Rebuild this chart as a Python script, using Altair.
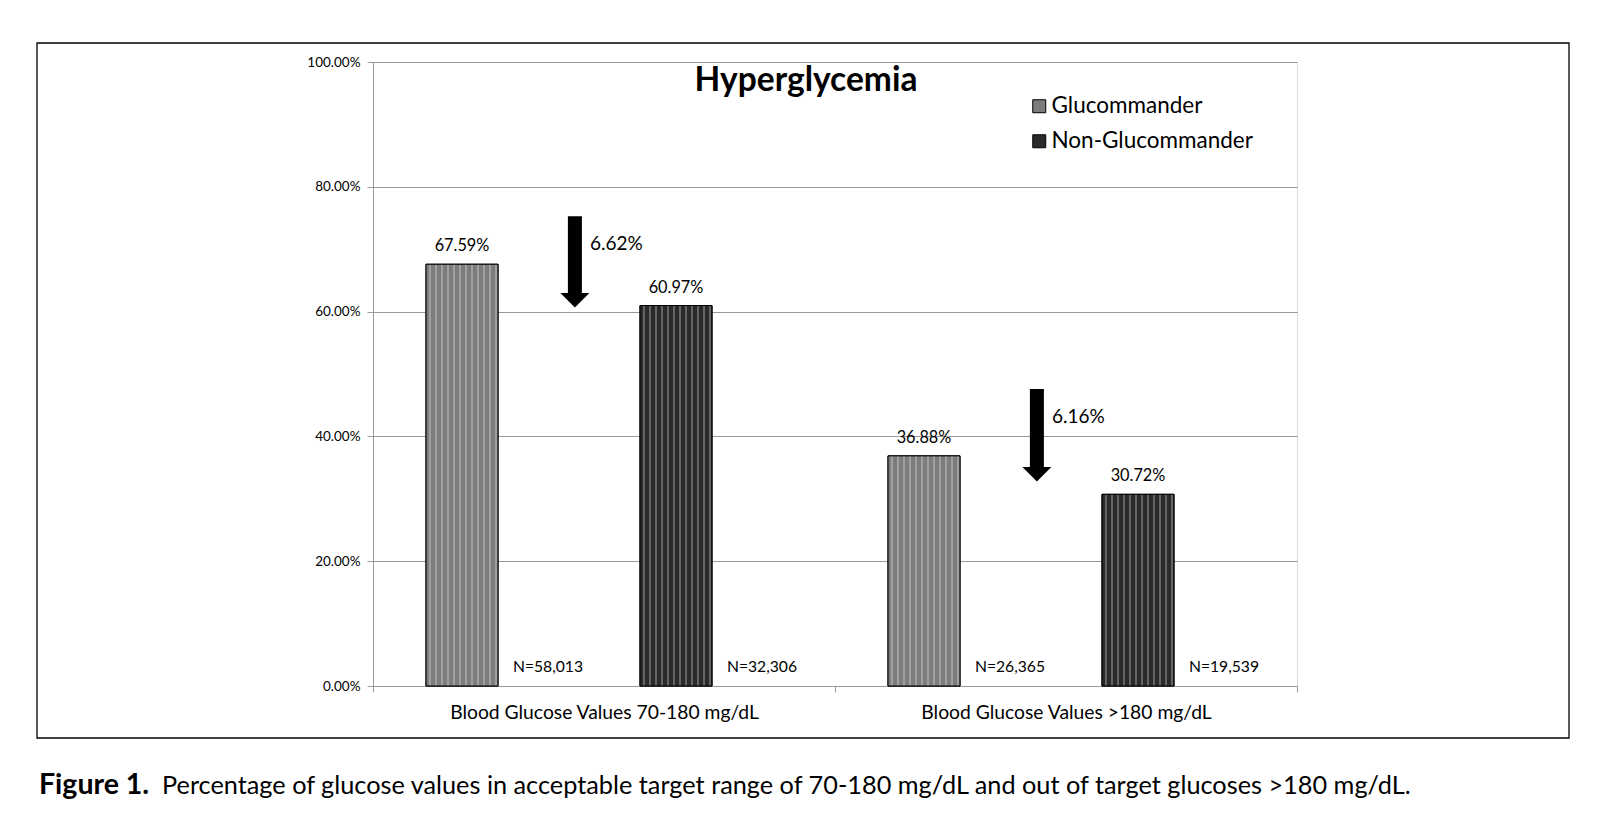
import altair as alt
import pandas as pd

# ---- data ----
categories = ["Blood Glucose Values 70-180 mg/dL", "Blood Glucose Values >180 mg/dL"]
series = ["Glucommander", "Non-Glucommander"]
gluco_values = [0.6759, 0.3688]
non_values = [0.6097, 0.3072]
gluco_n = ["N=58,013", "N=26,365"]
non_n = ["N=32,306", "N=19,539"]
diff_labels = ["6.62%", "6.16%"]
arrow_top = [0.753, 0.476]
arrow_base = [0.630, 0.351]
diff_label_y = [0.709, 0.431]
y_ticks = [0.0, 0.2, 0.4, 0.6, 0.8, 1.0]
title_text = "Hyperglycemia"
caption_bold = "Figure 1."
caption_text = ("Percentage of glucose values in acceptable target range of 70-180 mg/dL "
                "and out of target glucoses >180 mg/dL.")

FONT = "Lato"
slots = ["Glucommander", "gapG", "Non-Glucommander", "gapN"]
fill_colors = ["#7c7c7c", "#2a2a2a"]
stripe_colors = ["#a0a0a0", "#646464"]

bars = pd.DataFrame({
    "category": categories * 2,
    "series": [series[0]] * 2 + [series[1]] * 2,
    "value": gluco_values + non_values,
})
bars["label"] = [f"{v * 100:.2f}%" for v in bars["value"]]
bars["slot"] = bars["series"]

nlab = pd.DataFrame({
    "category": categories * 2,
    "slot": ["gapG"] * 2 + ["gapN"] * 2,
    "text": gluco_n + non_n,
    "value": [0.0] * 4,
})

arrows = pd.DataFrame({
    "category": categories,
    "top": arrow_top,
    "base": arrow_base,
    "label": diff_labels,
    "label_y": diff_label_y,
})

one = pd.DataFrame({"k": [0]})


def stripes(base, light, n=12, w=0.022):
    stops = [{"offset": 0, "color": base}]
    for i in range(n):
        p = (i + 0.5) / n
        stops += [{"offset": p, "color": base}, {"offset": p, "color": light},
                  {"offset": p + w, "color": light}, {"offset": p + w, "color": base}]
    stops.append({"offset": 1, "color": base})
    return {"gradient": "linear", "x1": 0, "x2": 1, "y1": 0, "y2": 0, "stops": stops}


xscale = alt.Scale(domain=categories, paddingInner=0, paddingOuter=0)
yscale = alt.Scale(domain=[0, 1])
offscale = alt.Scale(domain=slots, range=[53, 446], paddingInner=0.327, paddingOuter=0)

xaxis = alt.Axis(title=None, tickBand="extent", labelAngle=0, grid=False,
                 domainColor="#9a9a9a", tickColor="#9a9a9a", tickSize=6,
                 labelFontSize=19.3, labelFont=FONT, labelColor="black",
                 labelPadding=11, labelLimit=0)
X = alt.X("category:N", scale=xscale, sort=categories, axis=xaxis)
Y = alt.Y("value:Q", scale=yscale,
          axis=alt.Axis(title=None, values=y_ticks, format=".2%", grid=True,
                        gridColor="#9a9a9a", domainColor="#9a9a9a", tickColor="#9a9a9a",
                        tickSize=6, labelFontSize=13.5, labelFont=FONT,
                        labelColor="black", labelPadding=7))
XO = alt.XOffset("slot:N", scale=offscale)

bar_layer = alt.Chart(bars).mark_bar(stroke="black", strokeWidth=1).encode(
    x=X, xOffset=XO, y=Y,
    color=alt.Color("series:N", scale=alt.Scale(domain=series, range=fill_colors),
                    legend=alt.Legend(orient="none", legendX=655, legendY=33, title=None,
                                      symbolType="square", symbolSize=169,
                                      symbolStrokeColor="black", symbolStrokeWidth=1,
                                      labelFontSize=22.5, labelFont=FONT, labelColor="black",
                                      labelOffset=1, rowPadding=12, padding=0,
                                      labelLimit=0)),
)

texture_layers = [
    alt.Chart(bars).transform_filter(alt.datum.series == s).mark_bar(
        fill=stripes(fill_colors[i], stripe_colors[i]), stroke="black", strokeWidth=1
    ).encode(x=X, xOffset=XO, y=Y)
    for i, s in enumerate(series)
]

value_text = alt.Chart(bars).mark_text(dy=-18, fontSize=16.3, font=FONT, color="black").encode(
    x=X, xOffset=XO, y=Y, text="label:N")

n_text = alt.Chart(nlab).mark_text(dy=-19, dx=-21, fontSize=15.7, font=FONT, color="black").encode(
    x=X, xOffset=XO, y=Y, text="text:N")

XA = alt.X("category:N", scale=xscale, sort=categories, bandPosition=0.437, axis=xaxis)

shaft = alt.Chart(arrows).mark_rule(strokeWidth=14, color="black", strokeCap="butt").encode(
    x=XA, y=alt.Y("top:Q", scale=yscale), y2="base:Q")

head = alt.Chart(arrows).mark_point(shape="M-1,0L1,0L0,1Z", size=841, filled=True,
                                    color="black", opacity=1, strokeWidth=0).encode(
    x=XA, y=alt.Y("base:Q", scale=yscale))

diff_text = alt.Chart(arrows).mark_text(align="left", dx=15, fontSize=19, font=FONT,
                                        color="black").encode(
    x=XA, y=alt.Y("label_y:Q", scale=yscale), text="label:N")

title = alt.Chart(one).mark_text(text=title_text, fontSize=33.5, fontWeight="bold", font=FONT,
                                 color="black", align="center", baseline="alphabetic").encode(
    x=alt.value(433), y=alt.value(29))

frame = alt.Chart(one).mark_rect(filled=False, stroke="black", strokeWidth=1.3).encode(
    x=alt.value(-336), x2=alt.value(1196), y=alt.value(-19), y2=alt.value(676))

cap1 = alt.Chart(one).mark_text(text=caption_bold, fontSize=28.5, fontWeight="bold", font=FONT,
                                color="black", align="left", baseline="alphabetic").encode(
    x=alt.value(-334), y=alt.value(732))
cap2 = alt.Chart(one).mark_text(text=caption_text, fontSize=25.3, font=FONT,
                                color="black", align="left", baseline="alphabetic").encode(
    x=alt.value(-211), y=alt.value(732))

chart = alt.layer(bar_layer, *texture_layers, value_text, n_text, shaft, head, diff_text,
                  title, frame, cap1, cap2).properties(
    width=924, height=624,
    padding={"left": 28, "top": 34, "right": 10, "bottom": 10},
).configure_view(stroke=None).configure(background="white")

chart.save("out.html", embed_options={"renderer": "svg", "actions": False})
